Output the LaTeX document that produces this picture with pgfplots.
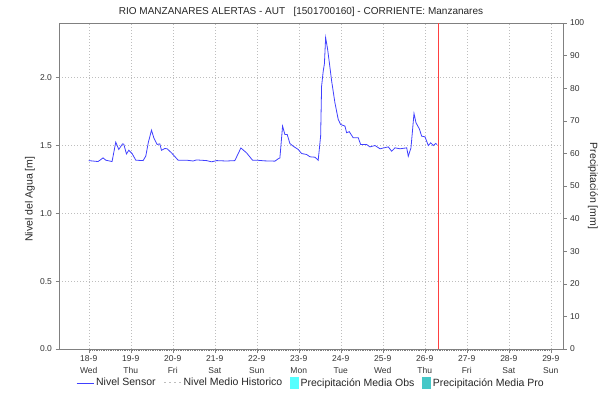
\documentclass[border=0pt]{standalone}
\usepackage{pgfplots}
\pgfplotsset{compat=1.18}
\usepackage{fontspec}
\setmainfont{Liberation Sans}
\definecolor{sensor}{RGB}{64,64,255}
\definecolor{nowred}{RGB}{255,64,64}
\definecolor{obs}{RGB}{85,255,255}
\definecolor{pro}{RGB}{70,200,200}
\definecolor{gridc}{RGB}{190,190,190}
\definecolor{axc}{RGB}{128,128,128}
\pgfplotstableread{
x y
0.000 1.387
0.222 1.380
0.341 1.407
0.405 1.390
0.555 1.380
0.643 1.523
0.715 1.469
0.803 1.510
0.834 1.508
0.898 1.436
0.953 1.463
1.032 1.439
1.120 1.390
1.294 1.387
1.358 1.420
1.418 1.520
1.494 1.611
1.549 1.555
1.627 1.506
1.692 1.510
1.732 1.463
1.811 1.476
1.866 1.474
1.970 1.444
2.128 1.390
2.328 1.390
2.485 1.384
2.566 1.392
2.804 1.387
2.924 1.378
3.043 1.387
3.281 1.384
3.479 1.387
3.622 1.480
3.757 1.444
3.900 1.390
3.996 1.390
4.193 1.385
4.432 1.383
4.510 1.400
4.551 1.407
4.615 1.641
4.670 1.579
4.725 1.579
4.789 1.513
4.868 1.493
4.987 1.469
5.068 1.439
5.187 1.432
5.266 1.415
5.385 1.412
5.463 1.390
5.521 1.567
5.544 1.936
5.583 2.046
5.611 2.100
5.640 2.293
5.687 2.207
5.718 2.133
5.783 1.973
5.861 1.813
5.940 1.690
5.997 1.653
6.100 1.641
6.140 1.592
6.202 1.600
6.297 1.555
6.417 1.555
6.474 1.505
6.617 1.505
6.695 1.488
6.815 1.498
6.934 1.474
7.131 1.488
7.212 1.456
7.291 1.481
7.410 1.474
7.570 1.481
7.608 1.419
7.672 1.481
7.744 1.734
7.791 1.666
7.870 1.621
7.927 1.567
8.006 1.562
8.084 1.498
8.142 1.518
8.203 1.498
8.261 1.513
8.292 1.505
}\sensordata
\begin{document}
\begin{tikzpicture}[x=1pt,y=1pt]
\path[use as bounding box] (0,0) rectangle (602,404);
\node[font=\fontsize{10}{12}\selectfont, text=black!85] at (301,392) {RIO MANZANARES ALERTAS - AUT\ \ \ [1501700160] - CORRIENTE: Manzanares};
\begin{axis}[
  at={(59pt,55pt)}, anchor=south west,
  scale only axis, width=504pt, height=326pt,
  xmin=-0.708333, xmax=11.291667, ymin=0, ymax=2.4,
  /pgf/number format/assume math mode=true,
  xtick={0,1,...,11},
  xticklabels={18-9\\Wed,19-9\\Thu,20-9\\Fri,21-9\\Sat,22-9\\Sun,23-9\\Mon,24-9\\Tue,25-9\\Wed,26-9\\Thu,27-9\\Fri,28-9\\Sat,29-9\\Sun},
  xticklabel style={align=center, font=\fontsize{8.5}{11.5}\selectfont, text=black!80},
  minor x tick num=23,
  ytick={0,0.5,1.0,1.5,2.0},
  yticklabel style={font=\fontsize{8.5}{10}\selectfont, text=black!80, /pgf/number format/.cd, fixed, fixed zerofill, precision=1, assume math mode=true},
  xtick pos=left, ytick pos=left,
  tick align=outside, major tick length=3.5pt, minor tick length=2pt,
  axis line style={axc}, tick style={axc},
  xmajorgrids, ymajorgrids,
  major grid style={gridc, dash pattern=on 1pt off 2pt},
  every axis y label/.style={at={(axis description cs:-0.0575,0.46)}, rotate=90, anchor=center},
  ylabel={Nivel del Agua [m]},
  ylabel style={font=\fontsize{10.5}{12}\selectfont, text=black!85},
  legend columns=4,
  legend style={draw=none, fill=none, at={(0.5,-0.104)}, anchor=center,
    font=\fontsize{10.5}{12}\selectfont, text=black!85,
    /tikz/every even column/.append style={column sep=6pt}},
  legend cell align=left,
]
\addplot[sensor, line width=0.8pt] table[x=x,y=y] {\sensordata};
\addlegendentry{Nivel Sensor}
\addlegendimage{gridc, line width=0.9pt, dash pattern=on 2pt off 3pt}
\addlegendentry{Nivel Medio Historico}
\addlegendimage{legend image code/.code={\fill[obs] (0pt,-5pt) rectangle (8pt,6pt);}}
\addlegendentry{Precipitación Media Obs}
\addlegendimage{legend image code/.code={\fill[pro] (0pt,-5pt) rectangle (8pt,6pt);}}
\addlegendentry{Precipitación Media Pro}
\addplot[nowred, line width=1pt, forget plot] coordinates {(8.33,0) (8.33,2.4)};
\end{axis}
\begin{axis}[
  at={(59pt,55pt)}, anchor=south west,
  scale only axis, width=504pt, height=326pt,
  xmin=-0.708333, xmax=11.291667, ymin=0, ymax=100,
  axis x line=none, axis y line*=right,
  ytick={0,10,...,100},
  /pgf/number format/assume math mode=true,
  yticklabel style={font=\fontsize{8.5}{10}\selectfont, text=black!80, /pgf/number format/assume math mode=true},
  tick align=outside, major tick length=3.5pt,
  axis line style={axc}, tick style={axc},
  every axis y label/.style={at={(axis description cs:1.0595,0.5)}, rotate=-90, anchor=center},
  ylabel={Precipitación [mm]},
  ylabel style={font=\fontsize{10.5}{12}\selectfont, text=black!85},
]
\end{axis}
\end{tikzpicture}
\end{document}
